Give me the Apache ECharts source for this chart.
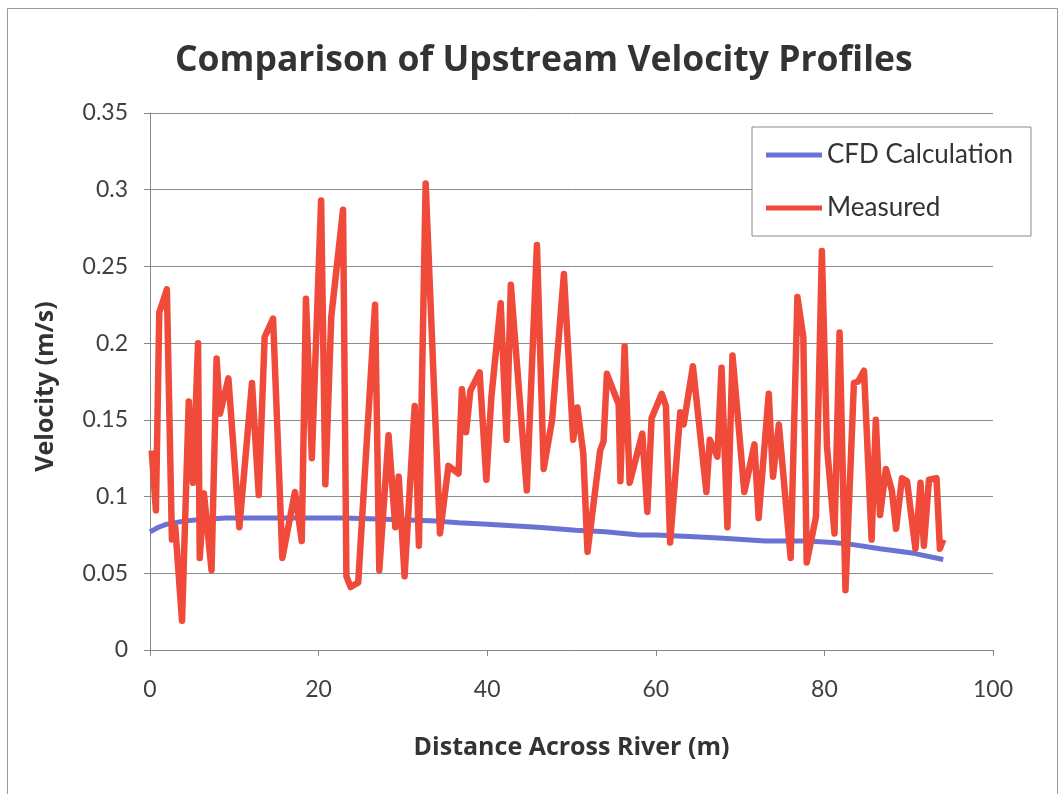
<!DOCTYPE html>
<html>
<head>
<meta charset="utf-8">
<script src="https://cdn.jsdelivr.net/npm/echarts@6/dist/echarts.min.js"></script>
<style>
html,body{margin:0;padding:0;background:#fff;}
#chart{width:1062px;height:794px;}
</style>
</head>
<body>
<div id="chart"></div>
<script>
const titleText = "Comparison of Upstream Velocity Profiles";
const xAxisName = "Distance Across River (m)";
const yAxisName = "Velocity (m/s)";
const seriesNames = ["CFD Calculation", "Measured"];

const cfdX = [0, 1, 2, 4, 6, 9, 20, 23, 29, 34, 36.6, 40, 46, 50.5, 54, 58, 60, 64, 67.5, 73, 78, 81, 83, 86.6, 90.6, 94.1];
const cfdY = [0.077, 0.080, 0.082, 0.084, 0.085, 0.086, 0.086, 0.086, 0.085, 0.084, 0.083, 0.082, 0.080, 0.078, 0.077, 0.075, 0.075, 0.074, 0.073, 0.071, 0.071, 0.070, 0.069, 0.066, 0.063, 0.059];

const measX = [0.2, 0.7, 1.1, 2.0, 2.6, 3.0, 3.8, 4.6, 5.1, 5.7, 5.9, 6.4, 7.3, 7.9, 8.3, 9.3, 10.6, 12.1, 12.9, 13.6, 14.6, 15.7, 17.2, 18.0, 18.5, 19.2, 20.3, 20.8, 21.5, 22.9, 23.3, 23.8, 24.7, 26.7, 27.2, 28.3, 29.1, 29.5, 30.2, 31.4, 31.9, 32.7, 34.4, 35.4, 36.6, 37.0, 37.5, 38.0, 39.1, 39.9, 40.5, 41.6, 42.3, 42.8, 44.7, 45.9, 46.7, 47.7, 49.1, 50.2, 50.7, 51.4, 51.9, 53.4, 53.8, 54.2, 55.6, 55.8, 56.3, 56.9, 58.4, 59.0, 59.5, 60.7, 61.2, 61.7, 62.9, 63.3, 64.4, 66.0, 66.4, 67.3, 67.8, 68.5, 69.1, 70.5, 71.7, 72.2, 73.4, 73.9, 74.6, 76.0, 76.8, 77.5, 77.9, 79.0, 79.7, 80.3, 81.2, 81.8, 82.5, 83.5, 84.0, 84.7, 85.6, 86.1, 86.6, 87.3, 88.0, 88.5, 89.2, 89.8, 90.8, 91.4, 91.8, 92.4, 93.3, 93.7, 94.1];
const measY = [0.130, 0.091, 0.220, 0.235, 0.072, 0.080, 0.019, 0.162, 0.109, 0.200, 0.060, 0.102, 0.052, 0.190, 0.154, 0.177, 0.080, 0.174, 0.101, 0.204, 0.216, 0.060, 0.103, 0.071, 0.229, 0.125, 0.293, 0.108, 0.217, 0.287, 0.048, 0.041, 0.044, 0.225, 0.052, 0.140, 0.080, 0.113, 0.048, 0.159, 0.068, 0.304, 0.076, 0.120, 0.115, 0.170, 0.142, 0.169, 0.181, 0.111, 0.165, 0.226, 0.137, 0.238, 0.104, 0.264, 0.118, 0.150, 0.245, 0.137, 0.158, 0.128, 0.064, 0.130, 0.136, 0.180, 0.160, 0.110, 0.198, 0.109, 0.141, 0.090, 0.151, 0.167, 0.159, 0.070, 0.155, 0.147, 0.185, 0.103, 0.137, 0.126, 0.184, 0.080, 0.192, 0.103, 0.134, 0.086, 0.167, 0.113, 0.147, 0.060, 0.230, 0.204, 0.057, 0.087, 0.260, 0.133, 0.076, 0.207, 0.039, 0.174, 0.175, 0.182, 0.072, 0.150, 0.088, 0.118, 0.104, 0.079, 0.112, 0.110, 0.066, 0.109, 0.068, 0.111, 0.112, 0.066, 0.072];

const pair = (xs, ys) => xs.map((x, i) => [x, ys[i]]);

const FONT = "Lato";
const BOLD = "Open Sans";
const chart = echarts.init(document.getElementById('chart'), null, {renderer: 'canvas'});
chart.setOption({
  backgroundColor: '#ffffff',
  animation: false,
  title: {
    text: titleText,
    left: 170,
    top: 38,
    textStyle: {fontFamily: BOLD, fontWeight: 'bold', fontSize: 35.5, color: '#333'}
  },
  graphic: [{
    type: 'rect', shape: {x: 7.5, y: 8.5, width: 1050, height: 800},
    style: {fill: 'none', stroke: '#9a9a9a', lineWidth: 1}, silent: true, z: -1
  }],
  legend: {
    orient: 'vertical',
    left: 752, top: 127,
    padding: [14, 18, 14, 14],
    itemGap: 25,
    itemWidth: 56, itemHeight: 5,
    icon: 'rect',
    borderColor: '#8a8a8a', borderWidth: 1,
    backgroundColor: '#fff',
    textStyle: {fontFamily: FONT, fontSize: 26, lineHeight: 28, color: '#333'},
    data: seriesNames
  },
  grid: {left: 150, right: 69, top: 113, bottom: 144},
  xAxis: {
    type: 'value', min: 0, max: 100, interval: 20,
    name: xAxisName, nameLocation: 'middle', nameGap: 85,
    nameTextStyle: {fontFamily: BOLD, fontWeight: 'bold', fontSize: 25, color: '#333'},
    axisLine: {show: true, lineStyle: {color: '#868686', width: 1}},
    axisTick: {show: true, inside: false, length: 6, lineStyle: {color: '#868686'}},
    axisLabel: {fontFamily: FONT, fontSize: 23, color: '#404040', margin: 28},
    splitLine: {show: false}
  },
  yAxis: {
    type: 'value', min: 0, max: 0.35, interval: 0.05,
    name: yAxisName, nameLocation: 'middle', nameGap: 92, nameRotate: 90,
    nameTextStyle: {fontFamily: BOLD, fontWeight: 'bold', fontSize: 25, color: '#333', padding: [0, 10, 0, 0]},
    axisLine: {show: true, lineStyle: {color: '#868686', width: 1}},
    axisTick: {show: true, inside: false, length: 6, lineStyle: {color: '#868686'}},
    axisLabel: {fontFamily: FONT, fontSize: 23, color: '#404040', margin: 22},
    splitLine: {show: true, lineStyle: {color: '#8c8c8c', width: 1}}
  },
  series: [
    {
      name: seriesNames[0], type: 'line', data: pair(cfdX, cfdY),
      showSymbol: false, symbol: 'none',
      lineStyle: {color: '#6a72d4', width: 5},
      itemStyle: {color: '#6a72d4'}, z: 2
    },
    {
      name: seriesNames[1], type: 'line', data: pair(measX, measY),
      showSymbol: false, symbol: 'none',
      lineStyle: {color: '#ef4a3a', width: 6.5, join: 'round'},
      itemStyle: {color: '#ef4a3a'}, z: 3
    }
  ]
});
</script>
</body>
</html>
